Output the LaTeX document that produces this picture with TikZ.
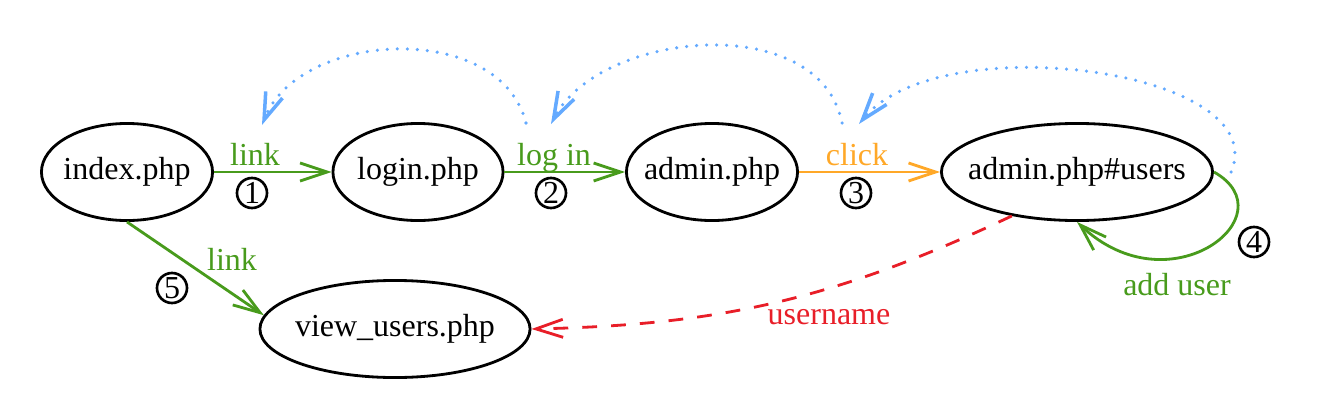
\documentclass[tikz,border=0pt]{standalone}
\usepackage{fontspec}
\setmainfont{Liberation Serif}
\usetikzlibrary{shapes.geometric,arrows.meta}
\definecolor{lgreen}{RGB}{72,155,28}
\definecolor{lorange}{RGB}{255,168,40}
\definecolor{lblue}{RGB}{100,170,255}
\definecolor{lred}{RGB}{232,30,40}
\begin{document}
\begin{tikzpicture}[x=0.01cm,y=-0.01cm,
  every node/.style={font=\fontsize{9.1}{11}\selectfont},
  page/.style={ellipse,draw,line width=0.8pt,inner sep=0pt,minimum height=0.97cm},
  num/.style={circle,draw,line width=0.75pt,inner sep=0pt,minimum size=0.30cm},
  tip/.style={-{Straight Barb[length=2.7mm,width=1.8mm]}},
  edge/.style={line width=0.8pt,tip},
  back/.style={lblue,line width=1pt,dash pattern=on 0pt off 2.85pt,line cap=round,tip},
  lbl/.style={anchor=base,inner sep=0pt}]
\useasboundingbox (0,0) rectangle (1324,418);
% pages
\node[page,minimum width=1.71cm] (idx) at (127,172) {\makebox[0pt]{index.php}};
\node[page,minimum width=1.70cm] (login) at (418,172) {\makebox[0pt]{login.php}};
\node[page,minimum width=1.71cm] (adm) at (712,172) {\makebox[0pt]{admin.php}};
\node[page,minimum width=2.71cm] (au) at (1077,172) {\makebox[0pt]{admin.php\#users}};
\node[page,minimum width=2.70cm] (vu) at (395,329) {\makebox[0pt]{view\_users.php}};
% labels
\node[lbl,text=lgreen] (l1) at (255,165) {link};
\node[num] (n1) at (252,193) {1};
\node[lbl,text=lgreen] (l2) at (554,165) {log in};
\node[num] (n2) at (551,193) {2};
\node[lbl,text=lorange] (l3) at (857,165) {click};
\node[num] (n3) at (856,193) {3};
\node[num] (n4) at (1254,242) {4};
\node[lbl,text=lgreen] (l4) at (1177,295) {add user};
\node[lbl,text=lgreen] (l5) at (232,270) {link};
\node[num] (n5) at (172,288) {5};
\node[lbl,text=lred] (l6) at (829,324) {username};
% main edges
\draw[edge,lgreen] (idx) -- (login);
\draw[edge,lgreen] (login) -- (adm);
\draw[edge,lorange] (adm) -- (au);
\draw[edge,lgreen] (au.east) .. controls (1290,215) and (1170,310) .. (au.south);
\draw[edge,lgreen] (idx.south) -- (vu.174);
\draw[edge,lred,dash pattern=on 4.2pt off 4pt] (au.-146) to[bend left=12] (vu.east);
% back arcs
\coordinate (b1s) at (526,123); \coordinate (b1e) at (262,125);
\coordinate (b2s) at (842,123); \coordinate (b2e) at (551,124);
\coordinate (b3s) at (1231,172); \coordinate (b3e) at (859,124);
\draw[back] (b1s) .. controls (500,20) and (300,30) .. (b1e);
\draw[back] (b2s) .. controls (820,10) and (600,30) .. (b2e);
\draw[back] (b3s) .. controls (1275,70) and (940,25) .. (b3e);
\end{tikzpicture}
\end{document}
